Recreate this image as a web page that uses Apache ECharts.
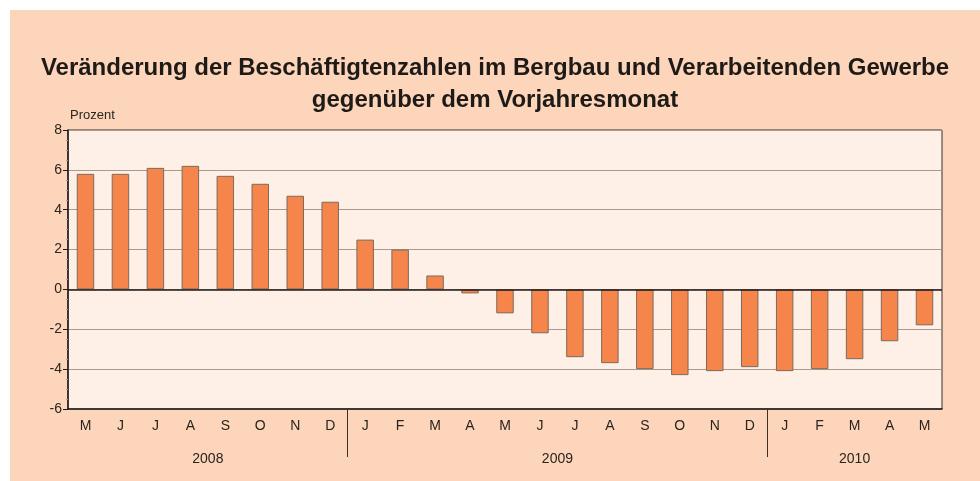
<!DOCTYPE html>
<html>
<head>
<meta charset="utf-8">
<script src="https://cdn.jsdelivr.net/npm/echarts@6/dist/echarts.min.js"></script>
<style>
  html, body { margin: 0; padding: 0; background: #fff; }
  #chart { position: absolute; left: 10px; top: 10px; width: 970px; height: 471px; }
</style>
</head>
<body>
<div id="chart"></div>
<script>
// Monatswerte Mai 2008 bis Mai 2010
var months = ['M', 'J', 'J', 'A', 'S', 'O', 'N', 'D',
  'J', 'F', 'M', 'A', 'M', 'J', 'J', 'A', 'S', 'O', 'N', 'D',
  'J', 'F', 'M', 'A', 'M']
var years = ['2008', '2008', '2008', '2008', '2008', '2008', '2008', '2008',
  '2009', '2009', '2009', '2009', '2009', '2009', '2009', '2009', '2009', '2009', '2009', '2009',
  '2010', '2010', '2010', '2010', '2010']
var values = [5.8, 5.8, 6.1, 6.2, 5.7, 5.3, 4.7, 4.4,
  2.5, 2.0, 0.7, -0.2, -1.2, -2.2, -3.4, -3.7, -4.0, -4.3, -4.1, -3.9,
  -4.1, -4.0, -3.5, -2.6, -1.8]
// Jahresbeschriftung: Mitte der jeweiligen Monatsgruppe
var yearLabels = { '3.5': '2008', '13.5': '2009', '22': '2010' }

var keys = months.map(function (m, i) { return years[i] + '-' + i })
// Grenzen zwischen den Monaten (für die Jahrestrennstriche)
var bounds = keys.concat(['end'])
var font = 'Liberation Sans, Arial, sans-serif'

var chart = echarts.init(document.getElementById('chart'))
chart.setOption({
  backgroundColor: '#fdd5ba',
  animation: false,
  title: {
    text: 'Veränderung der Beschäftigtenzahlen im Bergbau und Verarbeitenden Gewerbe\ngegenüber dem Vorjahresmonat',
    left: 'center',
    top: 37,
    textStyle: { fontFamily: font, fontSize: 24, fontWeight: 'bold', color: '#1e1a18', lineHeight: 32 }
  },
  grid: { left: 58, right: 38, top: 120, bottom: 72, show: true, backgroundColor: '#fef0e7', borderColor: '#3a2e28', borderWidth: 1 },
  xAxis: [{
    type: 'category',
    data: keys,
    axisLine: { onZero: false, lineStyle: { color: '#1e1a18', width: 1.5 } },
    axisTick: { show: false },
    axisLabel: { color: '#2a2420', fontFamily: font, fontSize: 14, margin: 10, interval: 0,
      formatter: function (v, i) { return months[i] } }
  }, {
    type: 'category',
    data: bounds,
    boundaryGap: false,
    position: 'bottom',
    axisLine: { show: false, onZero: false },
    axisLabel: { show: false },
    axisTick: { show: true, length: 48, lineStyle: { color: '#3a2e28' },
      interval: function (i) { return i > 0 && i < years.length && years[i] !== years[i - 1] } }
  }, {
    type: 'value',
    position: 'bottom',
    min: -0.5, max: 24.5, interval: 0.5,
    axisLine: { show: false, onZero: false },
    axisTick: { show: false },
    splitLine: { show: false },
    axisLabel: { show: true, margin: 43, color: '#2a2420', fontFamily: font, fontSize: 14, showMinLabel: false, showMaxLabel: false,
      formatter: function (v) { return yearLabels[String(v)] || '' } }
  }],
  yAxis: {
    type: 'value',
    min: -6, max: 8, interval: 2,
    name: 'Prozent',
    nameLocation: 'end',
    nameGap: 8,
    nameTextStyle: { fontFamily: font, fontSize: 13, color: '#2a2420', align: 'left', padding: [0, 0, 0, 2] },
    axisLine: { show: true, onZero: false, lineStyle: { color: '#1e1a18', width: 1.5 } },
    axisTick: { show: true, length: 5, lineStyle: { color: '#1e1a18' } },
    minorTick: { show: true, splitNumber: 4, length: 2, lineStyle: { color: '#a89888' } },
    axisLabel: { color: '#2a2420', fontFamily: font, fontSize: 14, margin: 6 },
    splitLine: { show: true, lineStyle: { color: '#a89a8e', width: 1.2 } }
  },
  series: [{
    type: 'bar',
    xAxisIndex: 0,
    data: values,
    barWidth: '50%',
    itemStyle: { color: '#f5854a', borderColor: '#7d6a5c', borderWidth: 1 },
    markLine: {
      silent: true, symbol: 'none', label: { show: false },
      lineStyle: { color: '#1e1a18', type: 'solid', width: 1.5 },
      data: [{ yAxis: 0 }]
    }
  }]
})
</script>
</body>
</html>
